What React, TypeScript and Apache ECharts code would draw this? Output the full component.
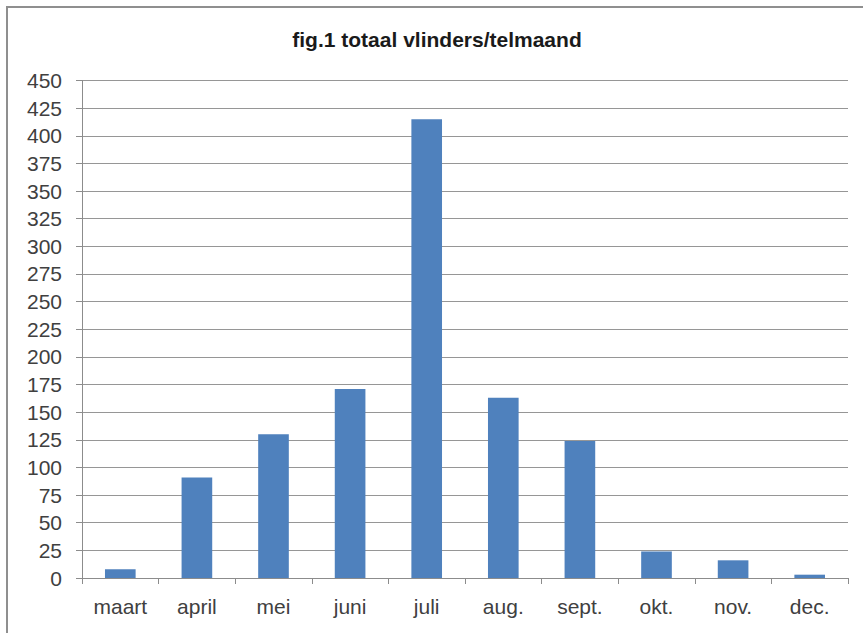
import React, { useEffect, useRef } from "react";
import * as echarts from "echarts";

const titleText = "fig.1 totaal vlinders/telmaand";
const months = ["maart", "april", "mei", "juni", "juli", "aug.", "sept.", "okt.", "nov.", "dec."];
const counts = [8, 91, 130, 171, 415, 163, 124, 24, 16, 3];
const yMin = 0;
const yMax = 450;
const yStep = 25;

export default function App() {
  const ref = useRef<HTMLDivElement>(null);

  useEffect(() => {
    if (!ref.current) return;
    const chart = echarts.init(ref.current, null, { renderer: "svg" });
    const labelFont = "'Liberation Sans', Arial, sans-serif";
    chart.setOption({
      animation: false,
      backgroundColor: "#ffffff",
      graphic: [
        {
          type: "line",
          shape: { x1: 7, y1: 7, x2: 863, y2: 7 },
          style: { stroke: "#8f8f8f", lineWidth: 2 },
          silent: true,
        },
        {
          type: "line",
          shape: { x1: 7, y1: 6, x2: 7, y2: 633 },
          style: { stroke: "#8f8f8f", lineWidth: 2 },
          silent: true,
        },
        {
          type: "text",
          x: 437,
          y: 29,
          style: {
            text: titleText,
            font: "bold 21px 'Liberation Sans', Arial, sans-serif",
            fill: "#1a1a1a",
            textAlign: "center",
            textVerticalAlign: "top",
          },
        },
      ],
      grid: { left: 82, right: 15, top: 80.5, bottom: 55, containLabel: false },
      xAxis: {
        type: "category",
        data: months,
        axisLine: { show: true, lineStyle: { color: "#8c8c8c", width: 1 } },
        axisTick: { show: true, length: 6, lineStyle: { color: "#8c8c8c" } },
        axisLabel: {
          margin: 18,
          color: "#404040",
          fontSize: 21,
          fontFamily: labelFont,
        },
        splitLine: { show: false },
      },
      yAxis: {
        type: "value",
        min: yMin,
        max: yMax,
        interval: yStep,
        axisLine: { show: true, lineStyle: { color: "#8c8c8c", width: 1 } },
        axisTick: { show: true, length: 6, lineStyle: { color: "#8c8c8c" } },
        axisLabel: {
          margin: 20,
          color: "#404040",
          fontSize: 21,
          fontFamily: labelFont,
        },
        splitLine: { show: true, lineStyle: { color: "#969696", width: 1 } },
      },
      series: [
        {
          type: "bar",
          data: counts,
          barCategoryGap: "60%",
          itemStyle: { color: "#4f81bd" },
        },
      ],
    });
    return () => chart.dispose();
  }, []);

  return (
    <div
      ref={ref}
      style={{ position: "absolute", left: 0, top: 0, width: 863, height: 633, background: "#fff" }}
    />
  );
}
